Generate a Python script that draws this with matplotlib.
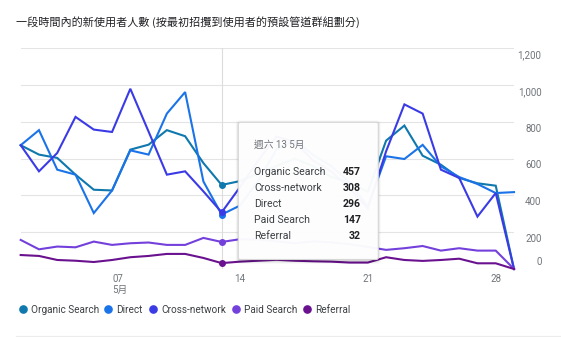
import matplotlib
matplotlib.use("Agg")
import matplotlib.pyplot as plt
import matplotlib.transforms as mtransforms
from matplotlib.patches import FancyBboxPatch

plt.rcParams['font.family'] = ['Roboto', 'Noto Sans CJK TC', 'DejaVu Sans']

# new users per day, 2 May .. 29 May
channels = ["Organic Search", "Direct", "Cross-network", "Paid Search", "Referral"]
colors = ["#0f78ad", "#1a73e8", "#3b3be6", "#7440dc", "#6a118f"]

organic = [673, 622, 604, 513, 431, 427, 649, 676, 755, 722, 576, 457, 478, 520,
           560, 600, 560, 500, 470, 420, 698, 780, 616, 567, 495, 466, 453, 0]
direct = [673, 755, 540, 513, 304, 427, 645, 622, 845, 962, 476, 296, 345, 480,
          650, 700, 620, 560, 470, 340, 613, 598, 675, 558, 500, 462, 413, 418]
cross = [673, 531, 631, 827, 758, 745, 980, 747, 513, 531, 422, 308, 445, 590,
         720, 690, 590, 530, 440, 330, 640, 895, 845, 540, 495, 285, 413, 0]
paid = [158, 107, 122, 118, 149, 131, 140, 144, 131, 131, 169, 147, 162, 160,
        150, 140, 150, 145, 135, 120, 104, 113, 125, 100, 113, 100, 100, 0]
referral = [76, 71, 49, 45, 38, 49, 64, 71, 82, 82, 60, 32, 40, 45,
            50, 45, 42, 40, 35, 35, 64, 49, 44, 49, 56, 31, 31, 0]
series = [organic, direct, cross, paid, referral]

x_ticks = [5, 12, 19, 26]
x_labels = ["07\n5月", "14", "21", "28"]
y_ticks = [0, 200, 400, 600, 800, 1000, 1200]

hover = 11
hover_title = "週六 13 5月"
title = "一段時間內的新使用者人數 (按最初招攬到使用者的預設管道群組劃分)"

W, H = 561, 337
fig = plt.figure(figsize=(W / 100, H / 100), dpi=100)
fig.patch.set_facecolor("white")

# plot area in pixels: x 20.7..514, y 48.3..269
left, right, top, bottom = 20.7, 514.0, 48.3, 269.0
ax = fig.add_axes([left / W, (H - bottom) / H, (right - left) / W, (bottom - top) / H])
ax.set_xlim(0, len(organic) - 1)
ax.set_ylim(0, 1200)
for s in ax.spines.values():
    s.set_visible(False)
ax.set_yticks(y_ticks)
ax.set_xticks([])
ax.tick_params(left=False, labelleft=False)
ax.yaxis.grid(True, color="#e4e4e4", lw=0.8)
ax.set_axisbelow(True)

days = list(range(len(organic)))
# hover guide
ax.axvline(hover, color="#dcdcdc", lw=0.8, zorder=1)

for vals, c in zip(series, colors):
    ax.plot(days, vals, color=c, lw=1.5, clip_on=False, zorder=3,
            solid_joinstyle="miter")
    ax.plot([hover], [vals[hover]], "o", color=c, ms=4, zorder=4, clip_on=False)

# right-hand value labels
px = 1200 / (bottom - top)
trans = mtransforms.blended_transform_factory(ax.transAxes, ax.transData)
xr = 1 + (541.5 - right) / (right - left)
for v in y_ticks:
    yy = v - 6.8 * px if v > 0 else v + 6.8 * px
    ax.text(xr, yy, f"{v:,}", transform=trans, ha="right", va="center",
            fontsize=7, color="#70757a")

# date labels
for t, lab in zip(x_ticks, x_labels):
    ax.text(t, -5.5 * px, lab, ha="left" if "\n" in lab else "center", va="top",
            fontsize=7, color="#70757a", linespacing=1.05, clip_on=False)

# overlay in pixel coordinates for title, legend and tooltip
ov = fig.add_axes([0, 0, 1, 1])
ov.set_xlim(0, W)
ov.set_ylim(H, 0)
ov.axis("off")

ov.text(16.5, 22, title, fontsize=8, color="#202124", va="center", ha="left",
        family=["Noto Sans CJK TC", "Roboto"])

legend_x = [23.3, 107.7, 153.3, 236.0, 307.3]
for lx, name, c in zip(legend_x, channels, colors):
    ov.plot([lx], [309.3], "o", color=c, ms=5.2)
    ov.text(lx + 8.2, 309.8, name, fontsize=7.2, color="#3c4043", va="center", ha="left")

ov.plot([16, W], [335.5, 335.5], color="#ececec", lw=0.8)

# tooltip
bx0, by0, bx1, by1 = 238.3, 122.3, 378.3, 259.5
for k, a in [(3.0, 0.03), (2.0, 0.05), (1.0, 0.08)]:
    ov.add_patch(FancyBboxPatch((bx0 - k + 0.5, by0 - k + 1.2), bx1 - bx0 + 2 * k - 1,
                                by1 - by0 + 2 * k, boxstyle="round,pad=0,rounding_size=3",
                                fc="black", ec="none", alpha=a))
ov.add_patch(FancyBboxPatch((bx0, by0), bx1 - bx0, by1 - by0,
                            boxstyle="round,pad=0,rounding_size=2",
                            fc="white", ec="#d6d6d6", lw=0.8, alpha=0.965))
ov.text(254.3, 144.3, hover_title, fontsize=7, color="#70757a", va="center", ha="left")
rows = sorted(zip(channels, series), key=lambda r: -r[1][hover])
for i, (name, vals) in enumerate(rows):
    yy = 172.3 + 16 * i
    ov.text(254.3, yy, name, fontsize=7.6, color="#3c4043", va="center", ha="left")
    ov.text(360.7, yy, str(vals[hover]), fontsize=7.6, color="#202124",
            va="center", ha="right", fontweight="bold")

fig.savefig("out.png", dpi=100)
